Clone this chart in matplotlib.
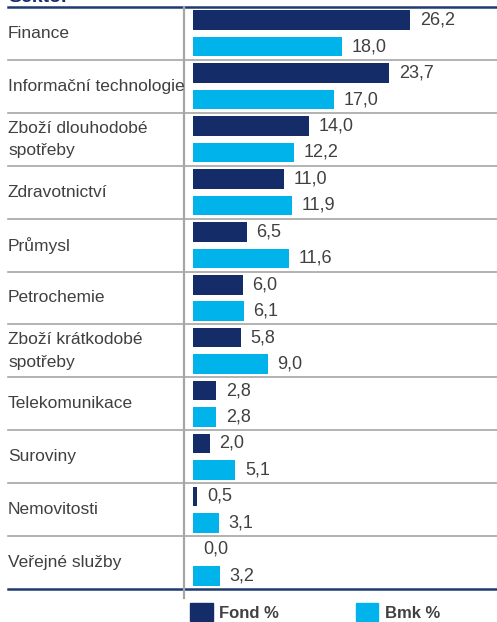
import matplotlib.pyplot as plt
from matplotlib.patches import Patch
import numpy as np

# data
sectors = ['Finance', 'Informační technologie', 'Zboží dlouhodobé\nspotřeby',
           'Zdravotnictví', 'Průmysl', 'Petrochemie', 'Zboží krátkodobé\nspotřeby',
           'Telekomunikace', 'Suroviny', 'Nemovitosti', 'Veřejné služby']
fond = [26.2, 23.7, 14.0, 11.0, 6.5, 6.0, 5.8, 2.8, 2.0, 0.5, 0.0]
bmk = [18.0, 17.0, 12.2, 11.9, 11.6, 6.1, 9.0, 2.8, 5.1, 3.1, 3.2]
legend_labels = ['Fond %', 'Bmk %']

navy = '#142d69'
cyan = '#00b4eb'
grey_txt = '#404040'
sep = '#a6a6a6'
fam = ['Liberation Sans Narrow', 'Liberation Sans', 'DejaVu Sans']
num_fam = ['Liberation Sans', 'DejaVu Sans']

W, H = 497, 622
fig = plt.figure(figsize=(W / 100, H / 100), dpi=100)
ax = fig.add_axes([184 / W, (H - 589) / H, (W - 184) / W, (589 - 7) / H])

y = np.arange(len(sectors))
off, bh = 0.25, 0.37
ax.barh(y - off, fond, height=bh, color=navy, left=0)
ax.barh(y + off, bmk, height=bh, color=cyan, left=0)

ax.set_ylim(len(sectors) - 0.5, -0.5)
ax.set_xlim(-1.09, 36.7)

for i in range(len(sectors)):
    ax.annotate(f'{fond[i]:.1f}'.replace('.', ','), (fond[i], y[i] - off),
                xytext=(7, 0), textcoords='offset points', ha='left', va='center',
                fontsize=13, color=grey_txt, family=num_fam)
    ax.annotate(f'{bmk[i]:.1f}'.replace('.', ','), (bmk[i], y[i] + off),
                xytext=(7, 0), textcoords='offset points', ha='left', va='center',
                fontsize=13, color=grey_txt, family=num_fam)

# row labels and separators
trans = ax.get_yaxis_transform()
x_left = (8 - 184) / (W - 184)
for i, s in enumerate(sectors):
    ax.text(x_left, y[i], s, transform=trans, ha='left', va='center',
            fontsize=12.5, color=grey_txt, family=fam, linespacing=1.6)
for b in np.arange(0.5, len(sectors) - 1, 1.0):
    ax.plot([x_left, 1], [b, b], transform=trans, color=sep, lw=1.2, clip_on=False)
ax.plot([x_left, 1], [-0.5, -0.5], transform=trans, color='#1f3a70', lw=1.8, clip_on=False)
ax.plot([x_left, 1], [len(sectors) - 0.5] * 2, transform=trans, color='#1f3a70', lw=1.8, clip_on=False)
ax.axvline(-1.09, color=sep, lw=1.6, ymax=1, ymin=-0.015, clip_on=False)

ax.set_axis_off()

# title, cut off at the top edge as in the source
fig.text(8 / W, 1 - 2 / H, 'Sektor', ha='left', va='baseline', fontsize=14,
         fontweight='bold', color=navy, family=fam)

handles = [Patch(color=navy), Patch(color=cyan)]
fig.legend(handles, legend_labels, loc='upper left', ncol=2,
           bbox_to_anchor=(190 / W, 1 - 603 / H), borderpad=0, borderaxespad=0,
           frameon=False, handlelength=1.35, handleheight=1.3, handletextpad=0.4,
           columnspacing=4.6, prop={'family': fam, 'weight': 'bold', 'size': 12},
           labelcolor=grey_txt)

fig.savefig('out.png', dpi=100)
